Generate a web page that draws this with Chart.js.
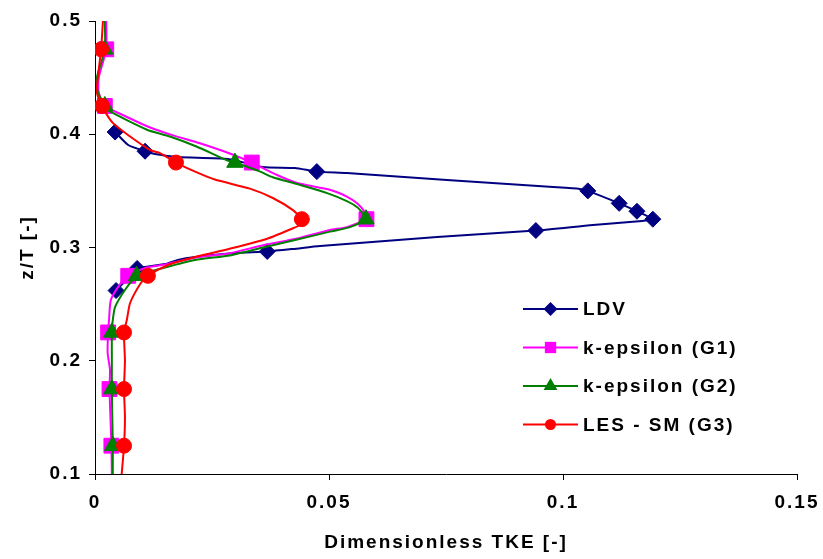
<!DOCTYPE html>
<html>
<head>
<meta charset="utf-8">
<script src="https://cdn.jsdelivr.net/npm/chart.js@4.4.1/dist/chart.umd.min.js"></script>
<style>
  html, body { margin: 0; padding: 0; background: #fff; }
  #wrap { width: 823px; height: 559px; }
</style>
</head>
<body>
<div id="wrap"><canvas id="tke" width="823" height="559"></canvas></div>
<script>
// TKE profiles along the vessel height, listed from top (z/T = 0.5) down
var ldvZ   = [0.402, 0.3905, 0.385, 0.3826, 0.3799, 0.3782, 0.3711, 0.3702, 0.367, 0.3658, 0.3596, 0.3534, 0.3517, 0.350, 0.339, 0.332, 0.325, 0.3234, 0.3199, 0.315, 0.3093, 0.3013, 0.2987, 0.2965, 0.2951, 0.2916, 0.2890, 0.2854, 0.2815, 0.2731, 0.262];
var ldvTke = [0.0043, 0.0071, 0.0107, 0.0128, 0.0177, 0.0284, 0.0359, 0.0427, 0.0474, 0.0538, 0.0752, 0.0979, 0.1036, 0.1053, 0.1120, 0.1158, 0.1192, 0.1169, 0.1064, 0.0942, 0.0731, 0.0481, 0.0423, 0.0368, 0.0299, 0.0214, 0.0177, 0.0150, 0.0090, 0.0071, 0.0045];
// measuring positions that get a marker
var ldvMarkZ = [0.402, 0.385, 0.367, 0.350, 0.339, 0.332, 0.325, 0.315, 0.2965, 0.2815, 0.262];

var g1Z   = [0.5, 0.475, 0.45, 0.437, 0.425, 0.419, 0.406, 0.399, 0.392, 0.383, 0.375, 0.364, 0.357, 0.351, 0.345, 0.339, 0.331, 0.325, 0.318, 0.3155, 0.308, 0.302, 0.295, 0.291, 0.2845, 0.282, 0.275, 0.269, 0.254, 0.236, 0.225, 0.207, 0.192, 0.175, 0.150, 0.125, 0.1];
var g1Tke = [0.0024, 0.0024, 0.0008, 0.0008, 0.0021, 0.0049, 0.0118, 0.0167, 0.0224, 0.0288, 0.0335, 0.0389, 0.0432, 0.0502, 0.0538, 0.0560, 0.0577, 0.0580, 0.0538, 0.0502, 0.0432, 0.0359, 0.0288, 0.0214, 0.0143, 0.0107, 0.0071, 0.0056, 0.0034, 0.0030, 0.0028, 0.0027, 0.0032, 0.0031, 0.0033, 0.0035, 0.0036];

var g2Z   = [0.5, 0.475, 0.45, 0.437, 0.425, 0.421, 0.404, 0.398, 0.389, 0.377, 0.375, 0.367, 0.362, 0.356, 0.348, 0.341, 0.335, 0.325, 0.318, 0.314, 0.307, 0.300, 0.293, 0.289, 0.280, 0.275, 0.2625, 0.2475, 0.236, 0.225, 0.2, 0.175, 0.15, 0.125, 0.1];
var g2Tke = [0.0021, 0.0021, 0.0004, 0.0006, 0.0021, 0.0028, 0.0111, 0.0160, 0.0218, 0.0282, 0.0299, 0.0353, 0.0380, 0.0432, 0.0496, 0.0538, 0.0562, 0.0579, 0.0545, 0.0502, 0.0432, 0.0359, 0.0288, 0.0214, 0.0128, 0.0089, 0.0064, 0.0043, 0.0038, 0.0036, 0.0036, 0.0036, 0.0037, 0.0038, 0.0038];

var lesZ   = [0.5, 0.475, 0.45, 0.437, 0.425, 0.410, 0.398, 0.386, 0.3834, 0.375, 0.367, 0.360, 0.352, 0.3437, 0.333, 0.325, 0.320, 0.317, 0.307, 0.2987, 0.2916, 0.2845, 0.275, 0.2687, 0.251, 0.236, 0.225, 0.2, 0.175, 0.15, 0.125, 0.1];
var lesTke = [0.0017, 0.0013, 0.0006, 0.0004, 0.0015, 0.0038, 0.0075, 0.0118, 0.0139, 0.0173, 0.0214, 0.0256, 0.0331, 0.0380, 0.0423, 0.0442, 0.0438, 0.0423, 0.0363, 0.0286, 0.0214, 0.0156, 0.0113, 0.0098, 0.0075, 0.0068, 0.0062, 0.0064, 0.0062, 0.0064, 0.0062, 0.0057];

// simulation results are marked every 0.05 z/T
var cfdMarkZ = [0.475, 0.425, 0.375, 0.325, 0.275, 0.225, 0.175, 0.125];

var xTicks = [0, 0.05, 0.1, 0.15];
var yTicks = [0.1, 0.2, 0.3, 0.4, 0.5];
var seriesNames = ['LDV', 'k-epsilon (G1)', 'k-epsilon (G2)', 'LES - SM (G3)'];

var FONT = "'Liberation Sans', Arial, sans-serif";

function toPoints(zs, vals) {
  var pts = [];
  for (var i = 0; i < zs.length; i++) pts.push({x: vals[i], y: zs[i]});
  return pts;
}

function profile(label, zs, vals, marks, color, style, r, order) {
  return {
    label: label,
    data: toPoints(zs, vals),
    showLine: true,
    borderColor: color,
    backgroundColor: color,
    borderWidth: 2,
    tension: 0.2,
    order: order,
    pointStyle: style,
    pointBorderWidth: 1,
    pointBorderColor: color,
    pointBackgroundColor: color,
    pointRadius: function(c) { return marks.indexOf(c.raw.y) >= 0 ? r : 0; },
    pointHoverRadius: function(c) { return marks.indexOf(c.raw.y) >= 0 ? r : 0; }
  };
}

function drawMarker(ctx, style, x, y, r) {
  ctx.beginPath();
  if (style === 'rectRot') {
    ctx.moveTo(x - r, y); ctx.lineTo(x, y - r); ctx.lineTo(x + r, y); ctx.lineTo(x, y + r);
  } else if (style === 'rect') {
    var h = r * Math.SQRT1_2;
    ctx.rect(x - h, y - h, 2 * h, 2 * h);
  } else if (style === 'triangle') {
    ctx.moveTo(x, y - r);
    ctx.lineTo(x + r * 0.866, y + r / 2);
    ctx.lineTo(x - r * 0.866, y + r / 2);
  } else {
    ctx.arc(x, y, r, 0, Math.PI * 2);
  }
  ctx.closePath();
  ctx.fill();
}

// legend: short line with the marker in its middle, label on the right
var sideLegend = {
  id: 'sideLegend',
  afterDraw: function(chart) {
    var ctx = chart.ctx, a = chart.chartArea;
    var x0 = a.left + 428, x1 = a.left + 483, xt = a.left + 488;
    var y0 = a.top + 288, step = 38.5;
    ctx.save();
    ctx.letterSpacing = '2px';
    ctx.font = 'bold 19px ' + FONT;
    ctx.textBaseline = 'middle';
    chart.data.datasets.forEach(function(ds, i) {
      var y = y0 + i * step;
      ctx.strokeStyle = ds.borderColor;
      ctx.fillStyle = ds.borderColor;
      ctx.lineWidth = 2;
      ctx.beginPath(); ctx.moveTo(x0, y); ctx.lineTo(x1, y); ctx.stroke();
      drawMarker(ctx, ds.pointStyle, (x0 + x1) / 2, y, ds.legendR);
      ctx.fillStyle = '#000';
      ctx.fillText(ds.label, xt, y + 1);
    });
    ctx.restore();
  }
};

// spaced-out lettering for axis text
var spacing = {
  id: 'spacing',
  beforeLayout: function(chart) { chart.ctx.letterSpacing = '2px'; },
  beforeDraw: function(chart) { chart.ctx.letterSpacing = '2px'; }
};

var datasets = [
  profile(seriesNames[0], ldvZ, ldvTke, ldvMarkZ, '#000080', 'rectRot', 8, 4),
  profile(seriesNames[1], g1Z, g1Tke, cfdMarkZ, '#ff00ff', 'rect', 10.5, 3),
  profile(seriesNames[2], g2Z, g2Tke, cfdMarkZ, '#008000', 'triangle', 9.5, 2),
  profile(seriesNames[3], lesZ, lesTke, cfdMarkZ, '#ff0000', 'circle', 7.5, 1)
];
datasets[0].legendR = 7;
datasets[1].legendR = 8;
datasets[2].legendR = 8;
datasets[3].legendR = 5.5;

Chart.defaults.color = '#000';
Chart.defaults.font.family = FONT;

new Chart(document.getElementById('tke'), {
  type: 'scatter',
  data: { datasets: datasets },
  plugins: [spacing, sideLegend],
  options: {
    responsive: false,
    animation: false,
    layout: { padding: { left: 12, right: 26, top: 21, bottom: 1 } },
    plugins: { legend: { display: false }, tooltip: { enabled: false } },
    scales: {
      x: {
        type: 'linear',
        min: 0, max: 0.15,
        afterBuildTicks: function(s) { s.ticks = xTicks.map(function(v) { return {value: v}; }); },
        afterFit: function(s) { s.height = 84; s.paddingLeft = 0; s.paddingRight = 0; },
        ticks: {
          padding: 11,
          font: { size: 19, weight: 'bold' },
          callback: function(v) { return String(v); }
        },
        grid: { drawOnChartArea: false, tickLength: 6, tickColor: '#000' },
        border: { color: '#000', width: 1 },
        title: {
          display: true, text: 'Dimensionless TKE [-]',
          font: { size: 19, weight: 'bold' },
          padding: { top: 4, bottom: 4 }
        }
      },
      y: {
        type: 'linear',
        min: 0.1, max: 0.5,
        afterBuildTicks: function(s) { s.ticks = yTicks.map(function(v) { return {value: v}; }); },
        afterFit: function(s) { s.width = 83; s.paddingTop = 0; s.paddingBottom = 0; },
        ticks: {
          padding: 7,
          font: { size: 19, weight: 'bold' },
          callback: function(v) { return String(v); }
        },
        grid: { drawOnChartArea: false, tickLength: 6, tickColor: '#000' },
        border: { color: '#000', width: 1 },
        title: {
          display: true, text: 'z/T [-]',
          font: { size: 19, weight: 'bold' },
          padding: { top: 4, bottom: 4 }
        }
      }
    }
  }
});
</script>
</body>
</html>
